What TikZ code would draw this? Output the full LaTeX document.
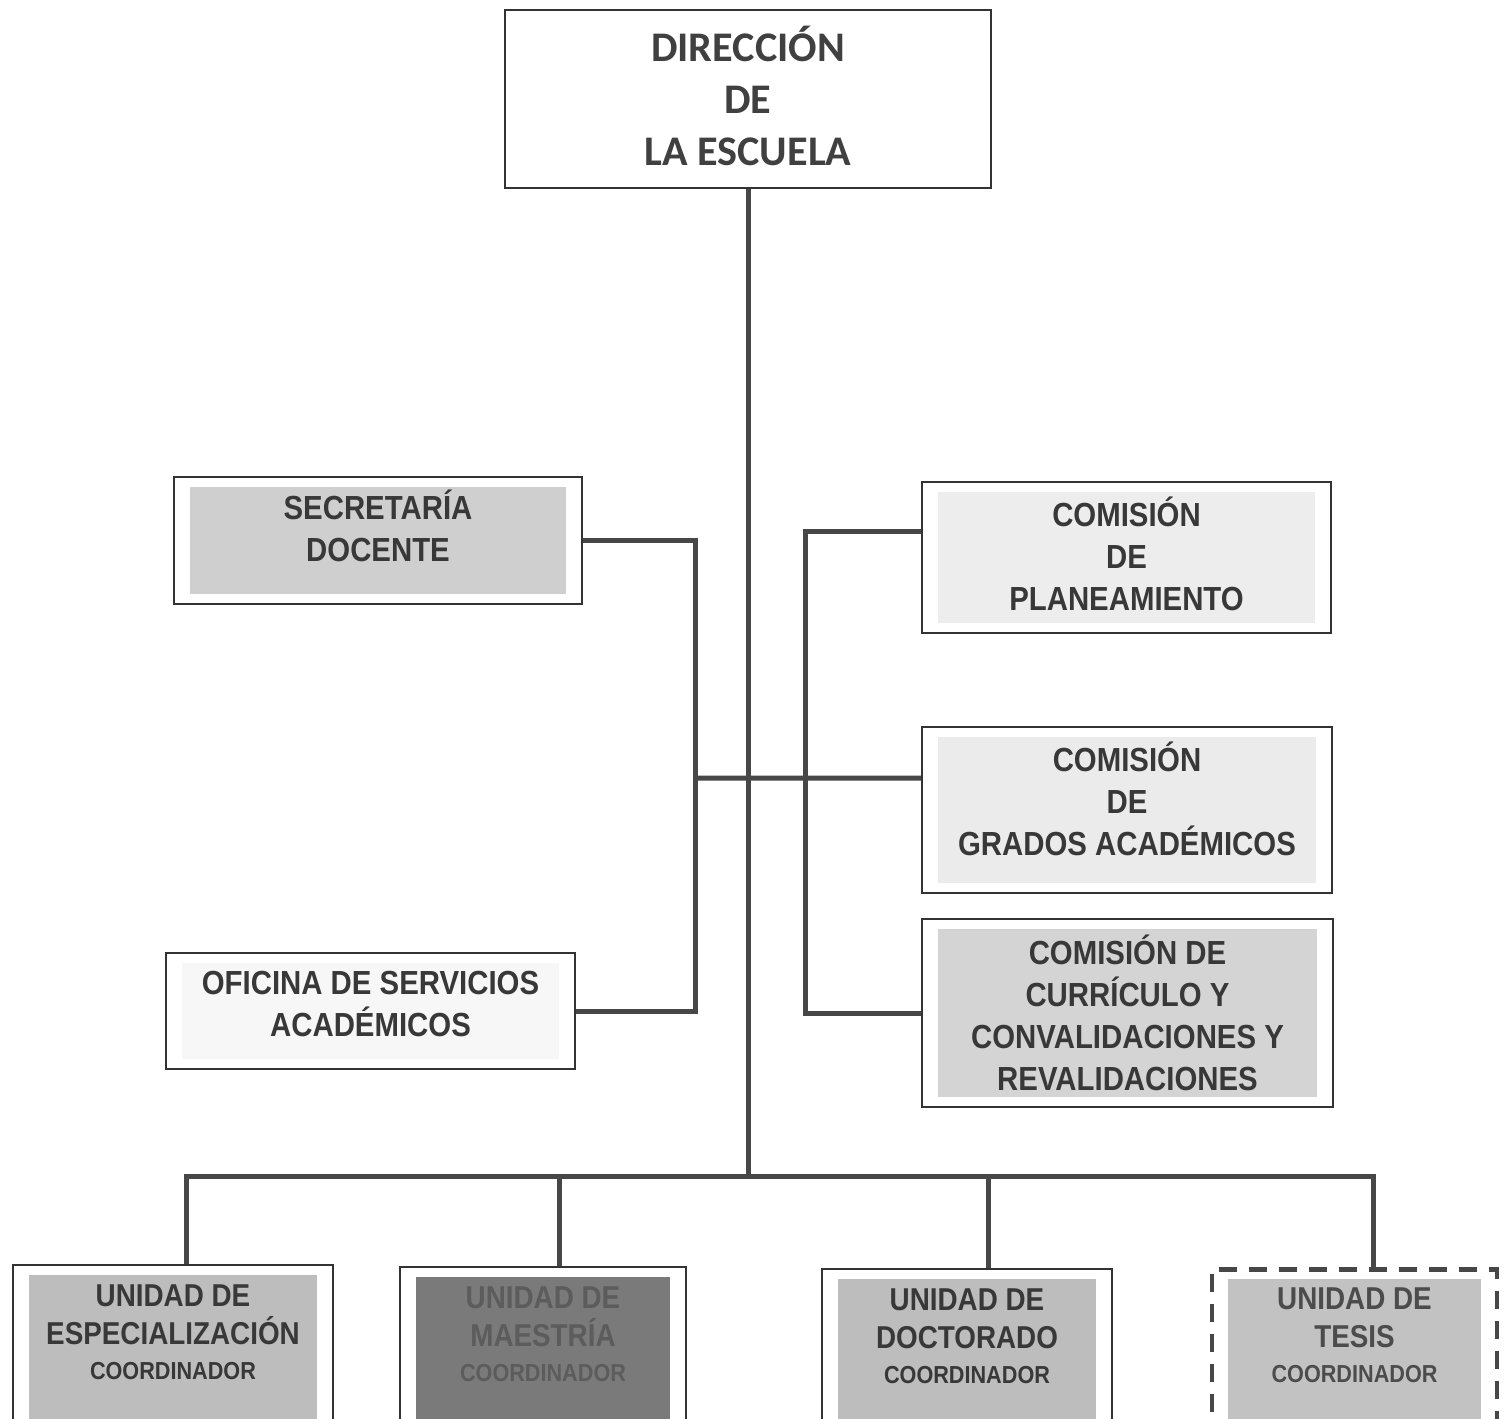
\documentclass[tikz,border=0pt]{standalone}
\usepackage{fontspec}
\newfontfamily\estrecha{Liberation Sans}[FakeStretch=0.88]
\newfontfamily\calibri{Carlito}
\begin{document}
\begin{tikzpicture}[x=0.02cm,y=-0.02cm,
  caja/.style={draw=black!80,line width=0.04cm,fill=white,inner sep=0pt},
  cajatrazos/.style={caja,draw=black!72,line width=0.09cm,dash pattern=on 0.36cm off 0.24cm},
  sombra/.style={path picture={\fill[#1] ([shift={(0.32cm,0.2cm)}]path picture bounding box.south west) rectangle ([shift={(-0.32cm,-0.2cm)}]path picture bounding box.north east);}},
  rotulo/.style={font=\estrecha\bfseries\fontsize{19}{23.8}\selectfont,text=black!78,align=center},
  linea/.style={draw=black!72,line width=0.1cm}]
\useasboundingbox (0,0) rectangle (1511,1419);
% Direccion
\node[caja,minimum width=486*0.02cm,minimum height=178*0.02cm] (dir) at (748,99) {};
\node[font=\calibri\bfseries\fontsize{24}{29.5}\selectfont,text=black!75,align=center] (dir-t) at (748,96) {DIRECCIÓN\\DE\\LA ESCUELA};
% Organos de apoyo y comisiones
\foreach \id/\cx/\cy/\w/\h/\fondo/\ty/\txt in {
  secre/378/540.5/408/127/black!19/526/{SECRETARÍA\\DOCENTE},
  ofi/370.5/1011/409/116/black!3/1004/{OFICINA DE SERVICIOS\\ACADÉMICOS},
  plan/1126.5/557.5/409/151/black!7/554/{COMISIÓN\\DE\\PLANEAMIENTO},
  grad/1127/810/410/166/black!8/799/{COMISIÓN\\DE\\GRADOS ACADÉMICOS},
  curr/1127.5/1013/411/188/black!17/1013/{COMISIÓN DE\\CURRÍCULO Y\\CONVALIDACIONES Y\\REVALIDACIONES}}{
  \node[caja,sombra=\fondo,minimum width=\w*0.02cm,minimum height=\h*0.02cm] (\id) at (\cx,\cy) {};
  \node[rotulo] (\id-t) at (\cx,\ty) {\txt};
}
\coordinate (bus) at (748,1176);
\coordinate (izq) at (695,778);
\coordinate (der) at (805,778);
\draw[linea] (dir.south) -- (bus);
\draw[linea] (secre.east) -| (izq) |- (ofi.east);
\draw[linea] ([yshift=0.53cm]plan.west) -| (der) |- (curr.west);
\draw[linea] (izq) -- ([yshift=0.64cm]grad.west);
% Unidades
\foreach \id/\borde/\cx/\w/\top/\dx/\fondo/\tinta/\txt in {
  esp/caja/173/320/1264/186/black!26/black!78/{UNIDAD DE\\ESPECIALIZACIÓN},
  mae/caja/543/286/1266/559/black!52/black!64/{UNIDAD DE\\MAESTRÍA},
  doc/caja/967/290/1268/988/black!26/black!78/{UNIDAD DE\\DOCTORADO},
  tes/cajatrazos/1354.5/285/1267/1373/black!24/black!70/{UNIDAD DE\\TESIS}}{
  \node[\borde,sombra=\fondo,anchor=north,minimum width=\w*0.02cm,minimum height=175*0.02cm] (\id) at (\cx,\top) {};
  \node[rotulo,font=\estrecha\bfseries\fontsize{18}{21.5}\selectfont,text=\tinta] (\id-t) at (\cx,\top+51) {\txt};
  \node[rotulo,font=\estrecha\bfseries\fontsize{14}{16}\selectfont,text=\tinta] (\id-c) at (\cx,\top+107) {COORDINADOR};
  \draw[linea] ([xshift=(\dx-\cx)*0.02cm]\id.north) |- (bus);
}
\end{tikzpicture}
\end{document}
